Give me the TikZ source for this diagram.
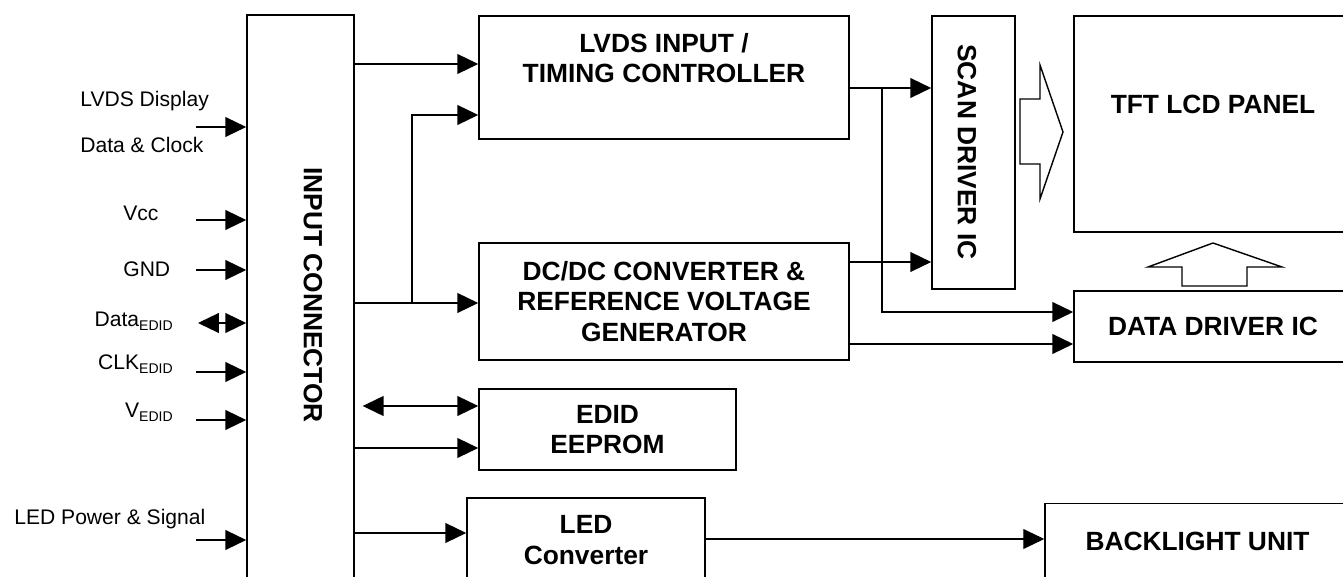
\documentclass[tikz,border=0pt]{standalone}
\usepackage{fontspec}
\setmainfont{Liberation Sans}
\usetikzlibrary{arrows.meta}

\begin{document}
\begin{tikzpicture}[x=0.02cm, y=-0.02cm,
  blk/.style={draw, line width=0.9pt, inner sep=0pt, align=center, font=\fontsize{15}{17.5}\selectfont\bfseries},
  btxt/.style={inner sep=0pt, align=center, font=\fontsize{15}{17.5}\selectfont\bfseries},
  lbl/.style={inner sep=0pt, font=\fontsize{12}{14}\selectfont},
  arr/.style={line width=0.8pt, -{Triangle[length=11.9pt,width=11.3pt]}},
  darr/.style={line width=0.8pt, {Triangle[length=11.9pt,width=11.3pt]}-{Triangle[length=11.9pt,width=11.3pt]}},
  fat/.style={draw, line width=0.8pt}]
\useasboundingbox (0,0) rectangle (1343,577);
\clip (0,0) rectangle (1343,577);

\node[blk, minimum width=2.14cm, minimum height=12.5cm] (inp) at (300.5,327.5) {};
\node[btxt, rotate=-90] (inptxt) at (313,295) {INPUT CONNECTOR};

\node[blk, minimum width=7.4cm, minimum height=2.46cm] (lvds) at (664,77.5) {};
\node[btxt] (lvdstxt) at (664,58) {LVDS INPUT /\\TIMING CONTROLLER};
\node[blk, minimum width=7.4cm, minimum height=2.34cm] (dcdc) at (664,301.5) {DC/DC CONVERTER \&\\REFERENCE VOLTAGE\\GENERATOR};
\node[blk, minimum width=5.14cm, minimum height=1.62cm] (edid) at (607.5,429.5) {EDID\\EEPROM};
\node[blk, minimum width=4.76cm, minimum height=1.68cm] (led) at (586,540) {LED\\Converter};

\node[blk, minimum width=1.66cm, minimum height=5.46cm] (scan) at (973.5,152.5) {};
\node[btxt, rotate=-90] (scantxt) at (967,152) {SCAN DRIVER IC};
\node[blk, minimum width=5.56cm, minimum height=4.32cm] (tft) at (1213,124) {};
\node[btxt] (tfttxt) at (1213,104) {TFT LCD PANEL};
\node[blk, minimum width=5.56cm, minimum height=1.42cm] (ddrv) at (1213,326.5) {DATA DRIVER IC};
\node[blk, minimum width=6.1cm, minimum height=1.5cm] (blu) at (1197.5,541) {BACKLIGHT UNIT};

\node[lbl, anchor=base west] (lvlbl) at (80,107) {LVDS Display};
\node[lbl, anchor=base west] (dclbl) at (80,153) {Data \& Clock};
\node[lbl, anchor=base west] (vcclbl) at (123,221) {Vcc};
\node[lbl, anchor=base west] (gndlbl) at (123,277) {GND};
\node[lbl, anchor=base east] (datlbl) at (174,327) {Data\textsubscript{EDID}};
\node[lbl, anchor=base east] (clklbl) at (174,370) {CLK\textsubscript{EDID}};
\node[lbl, anchor=base east] (vedlbl) at (174,418) {V\textsubscript{EDID}};
\node[lbl, anchor=base west] (ledlbl) at (14,525) {LED Power \& Signal};

\foreach \n/\y in {lv/127, vcc/220, gnd/270, clk/372, ved/420, ledp/540}
  \coordinate (\n) at (196,\y);
\coordinate (dat) at (198,323);
\foreach \n in {lv, vcc, gnd, clk, ved, ledp}
  \draw[arr] (\n) -- (inp.west |- \n);
\draw[darr] (dat) -- (inp.west |- dat);

\coordinate (jdc) at (412,303);
\draw[arr] (inp.east |- 0,64) -- (lvds.west |- 0,64);
\draw[arr] (inp.east |- jdc) -- (dcdc.west |- jdc);
\draw[arr] (jdc) |- (lvds.west |- 0,115);
\draw[darr, shorten <=4.5pt] (inp.east |- 0,406) -- (edid.west |- 0,406);
\draw[arr] (inp.east |- 0,448) -- (edid.west |- 0,448);
\draw[arr] (inp.east |- 0,533) -- (led.west |- 0,533);

\coordinate (jtc) at (882,88);
\draw[arr] (lvds.east |- jtc) -- (scan.west |- jtc);
\draw[arr] (jtc) |- (ddrv.west |- 0,312);
\draw[arr] (dcdc.east |- 0,262) -- (scan.west |- 0,262);
\draw[arr] (dcdc.east |- 0,344) -- (ddrv.west |- 0,344);
\draw[arr, line width=0.6pt] (led.east |- 0,539) -- (blu.west |- 0,539);

\draw[fat] (1020,99) -- (1040,99) -- (1040,65) -- (1063,132) -- (1040,199) -- (1040,164) -- (1020,164) -- cycle;
\draw[fat] (1182,286) -- (1182,267) -- (1148,267) -- (1213,243) -- (1282,267) -- (1247,267) -- (1247,286) -- cycle;
\end{tikzpicture}
\end{document}
